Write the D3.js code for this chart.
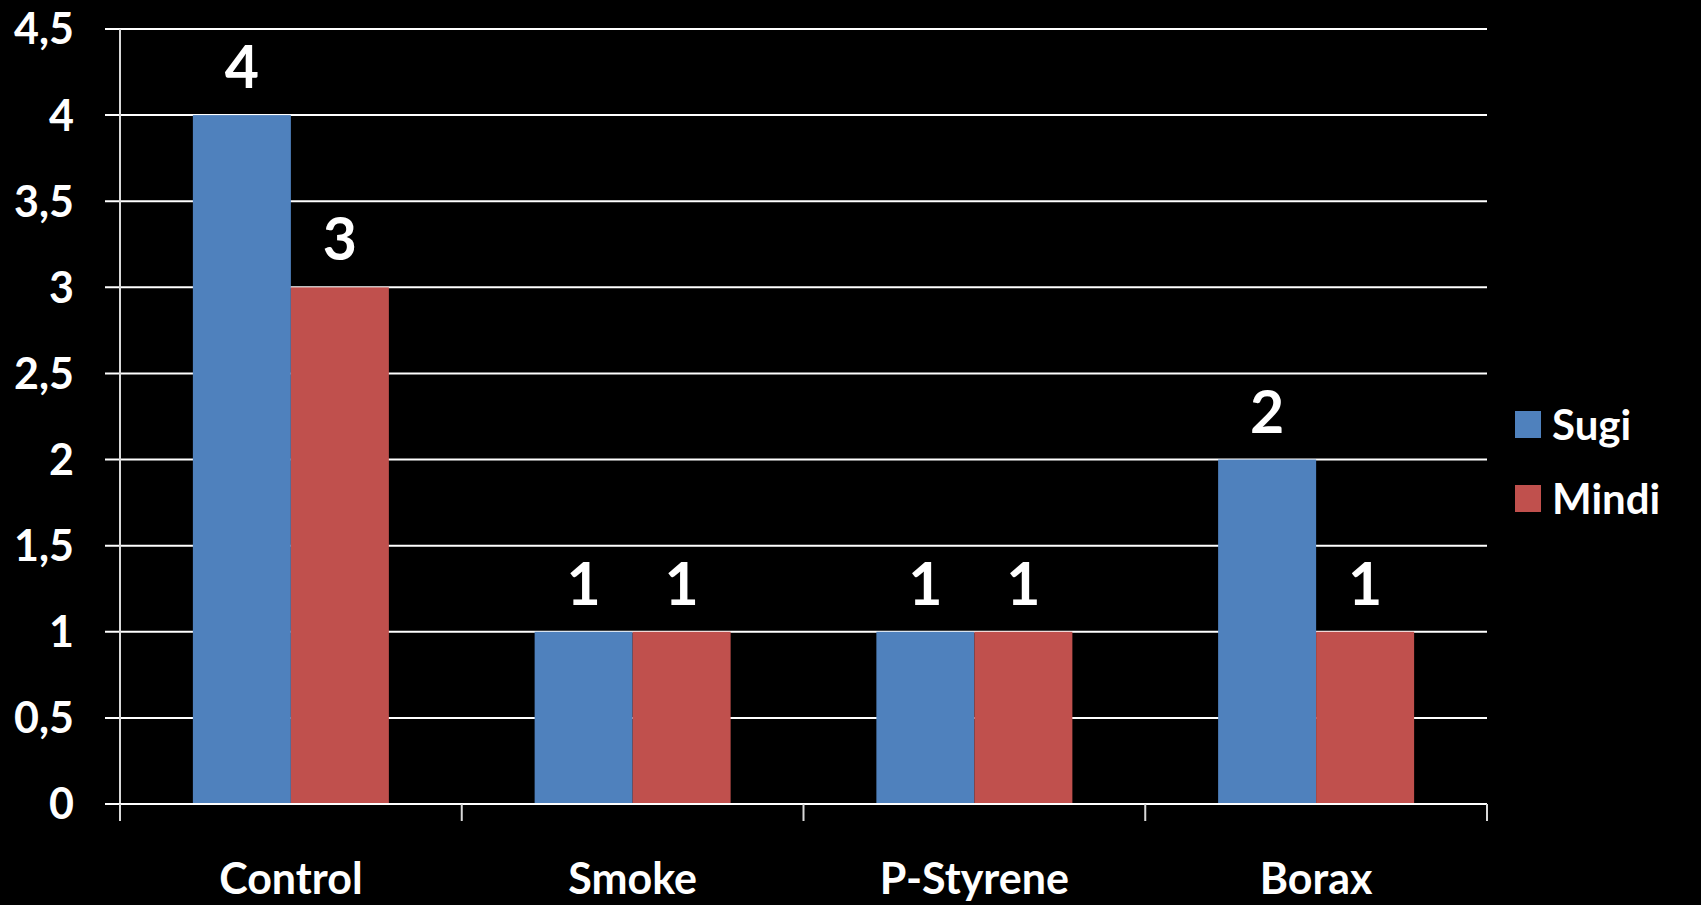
<!DOCTYPE html>
<html>
<head>
<meta charset="utf-8">
<script src="https://cdn.jsdelivr.net/npm/d3@7"></script>
<style>
  html, body { margin: 0; padding: 0; background: #000; }
  svg { display: block; }
  text { font-family: Lato, "Open Sans", sans-serif; font-weight: bold; fill: #fff; }
</style>
</head>
<body>
<svg id="chart" width="1701" height="905"></svg>
<script>
const categories = ["Control", "Smoke", "P-Styrene", "Borax"];
const seriesNames = ["Sugi", "Mindi"];
const sugiValues = [4, 1, 1, 2];
const mindiValues = [3, 1, 1, 1];
const seriesColors = ["#4F81BD", "#C0504D"];
const yTicks = [0, 0.5, 1, 1.5, 2, 2.5, 3, 3.5, 4, 4.5];
const yTickLabels = ["0", "0,5", "1", "1,5", "2", "2,5", "3", "3,5", "4", "4,5"];

const series = [sugiValues, mindiValues];
const svg = d3.select("#chart");

const plot = { left: 120, right: 1487, top: 29, bottom: 804 };

const x = d3.scaleBand().domain(categories).range([plot.left, plot.right]).padding(0);
const barW = 98;
const y = d3.scaleLinear().domain([0, 4.5]).range([plot.bottom, plot.top]);

// gridlines (with left tick extension)
svg.append("g").selectAll("line").data(yTicks).join("line")
  .attr("x1", 105).attr("x2", plot.right)
  .attr("y1", d => y(d)).attr("y2", d => y(d))
  .attr("stroke", "#ffffff").attr("stroke-width", 2);

// y tick labels
svg.append("g").selectAll("text").data(yTicks).join("text")
  .attr("x", 74).attr("y", d => y(d))
  .attr("dy", "0.36em")
  .attr("text-anchor", "end")
  .style("font-size", "43px")
  .text((d, i) => yTickLabels[i]);

// bars
categories.forEach((c, ci) => {
  const cx = x(c) + x.bandwidth() / 2;
  series.forEach((vals, si) => {
    const bx = cx - barW + si * barW;
    svg.append("rect")
      .attr("x", bx).attr("width", barW)
      .attr("y", y(vals[ci])).attr("height", y(0) - y(vals[ci]))
      .attr("fill", seriesColors[si]);
    svg.append("text")
      .attr("x", bx + barW / 2)
      .attr("y", y(vals[ci]) - 27)
      .attr("text-anchor", "middle")
      .style("font-size", "59px")
      .text(vals[ci]);
  });
});

// y axis line
svg.append("line")
  .attr("x1", plot.left).attr("x2", plot.left)
  .attr("y1", plot.top).attr("y2", 821)
  .attr("stroke", "#d9d9d9").attr("stroke-width", 2);

// x axis baseline
svg.append("line")
  .attr("x1", 105).attr("x2", plot.right)
  .attr("y1", plot.bottom).attr("y2", plot.bottom)
  .attr("stroke", "#ffffff").attr("stroke-width", 2);

// x ticks at band boundaries
const boundaries = categories.map(c => x(c)).concat([x(categories[categories.length - 1]) + x.bandwidth()]);
svg.append("g").selectAll("line").data(boundaries).join("line")
  .attr("x1", d => d).attr("x2", d => d)
  .attr("y1", plot.bottom).attr("y2", 821)
  .attr("stroke", "#d9d9d9").attr("stroke-width", 2);

// category labels
svg.append("g").selectAll("text").data(categories).join("text")
  .attr("x", d => x(d) + x.bandwidth() / 2)
  .attr("y", 894)
  .attr("text-anchor", "middle")
  .style("font-size", "43px")
  .text(d => d);

// legend
const leg = svg.append("g");
seriesNames.forEach((n, i) => {
  const ly = 411 + i * 74;
  leg.append("rect").attr("x", 1515).attr("y", ly).attr("width", 26).attr("height", 27)
    .attr("fill", seriesColors[i]);
  leg.append("text").attr("x", 1552).attr("y", ly + 13.5).attr("dy", "0.36em")
    .style("font-size", "42px").text(n);
});
</script>
</body>
</html>
